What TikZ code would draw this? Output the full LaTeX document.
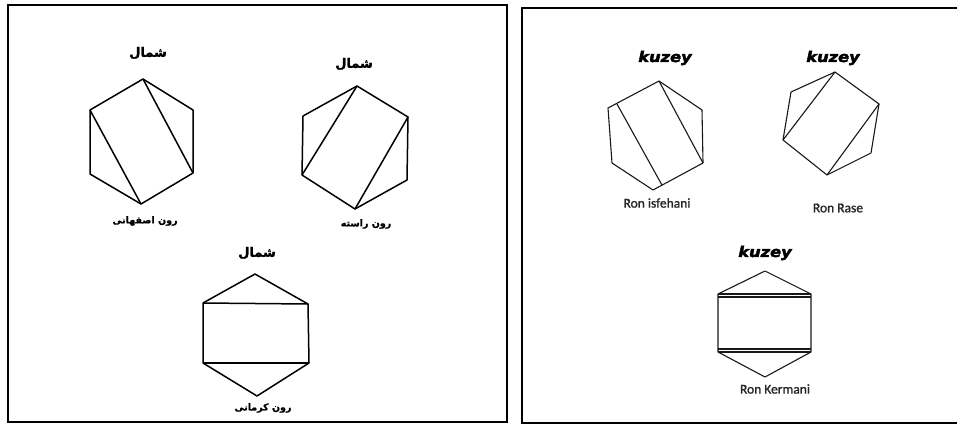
\documentclass[tikz,border=0pt]{standalone}
\usepackage{fontspec}
\usetikzlibrary{calc}
\TeXXeTstate=1
\newfontfamily\arabicfont[Script=Arabic,FakeBold=1.5]{DejaVu Sans Bold}
\newfontfamily\arabicsub[Script=Arabic,FakeBold=1]{DejaVu Sans Bold}
\newfontfamily\kzfont[FakeStretch=1.12,FakeBold=3]{DejaVu Sans Bold Oblique}
\newfontfamily\ronfont[FakeBold=1.2]{Carlito}
\tikzset{
  oldhex/.style={draw=black, line width=1.5pt, line join=round},
  newhex/.style={draw=black!90, line width=1.1pt, line join=round},
  panel/.style={draw=black, line width=1.6pt},
  panelr/.style={draw=black, line width=2.4pt},
  fatitle/.style={font=\arabicfont\fontsize{13}{15}\selectfont, inner sep=0pt},
  fasub/.style={font=\arabicsub\fontsize{9.5}{11}\selectfont, inner sep=0pt},
  kz/.style={font=\kzfont\fontsize{14.5}{16}\selectfont, inner sep=0pt},
  ron/.style={font=\ronfont\fontsize{13.5}{15}\selectfont, inner sep=0pt, text=black!85}
}
\begin{document}
\begin{tikzpicture}[x=1pt,y=-1pt]
\useasboundingbox (0,0) rectangle (957,425);
\fill[white] (0,0) rectangle (957,425);
% panels
\draw[panel] (8,5) rectangle (507,422);
\draw[panelr] (959,8) -- (522,8) -- (522,423) -- (959,423);

% ---------- left panel, hexagon 1 ----------
\coordinate (a1) at (143,79);
\coordinate (a2) at (193,110);
\coordinate (a3) at (193,173);
\coordinate (a4) at (141,204);
\coordinate (a5) at (90,174);
\coordinate (a6) at (90,110);
\draw[oldhex] (a1) -- (a2) -- (a3) -- (a4) -- (a5) -- (a6) -- cycle;
\draw[oldhex] (a6) -- (a4);
\draw[oldhex] (a1) -- (a3);
\node[fatitle] (at) at (148,53) {\beginR شمال\endR};
\node[fasub] (as) at (145,221) {\beginR رون اصفهانی\endR};

% ---------- left panel, hexagon 2 ----------
\coordinate (b1) at (357,86);
\coordinate (b2) at (408,117);
\coordinate (b3) at (407,180);
\coordinate (b4) at (355,209);
\coordinate (b5) at (302,175);
\coordinate (b6) at (303,116);
\draw[oldhex] (b1) -- (b2) -- (b3) -- (b4) -- (b5) -- (b6) -- cycle;
\draw[oldhex] (b1) -- (b5);
\draw[oldhex] (b2) -- (b4);
\node[fatitle] (bt) at (354,64) {\beginR شمال\endR};
\node[fasub] (bs) at (366,224) {\beginR رون راسته\endR};

% ---------- left panel, hexagon 3 ----------
\coordinate (c1) at (255,274);
\coordinate (c2) at (308,304);
\coordinate (c3) at (309,363);
\coordinate (c4) at (257,396);
\coordinate (c5) at (203,363);
\coordinate (c6) at (203,303);
\draw[oldhex] (c1) -- (c2) -- (c3) -- (c4) -- (c5) -- (c6) -- cycle;
\draw[oldhex] (c6) -- (c2);
\draw[oldhex] (c5) -- (c3);
\node[fatitle] (ct) at (257,253) {\beginR شمال\endR};
\node[fasub] (cs) at (263,408) {\beginR رون کرمانی\endR};

% ---------- right panel, hexagon A ----------
\coordinate (d1) at (659,81);
\coordinate (d2) at (702,110);
\coordinate (d3) at (703,163);
\coordinate (d4) at (653,190);
\coordinate (d5) at (612,163);
\coordinate (d6) at (608,108);
\draw[newhex] (d1) -- (d2) -- (d3) -- (d4) -- (d5) -- (d6) -- cycle;
\draw[newhex] ($(d6)!0.17!(d1)$) -- ($(d4)!0.18!(d3)$);
\draw[newhex] (d1) -- (d3);
\node[kz] (dt) at (665,58) {kuzey};
\node[ron] (ds) at (657,203) {Ron isfehani};

% ---------- right panel, hexagon B ----------
\coordinate (e1) at (835,72);
\coordinate (e2) at (879,104);
\coordinate (e3) at (871,153);
\coordinate (e4) at (827,175);
\coordinate (e5) at (783,140);
\coordinate (e6) at (791,92);
\draw[newhex] (e1) -- (e2) -- (e3) -- (e4) -- (e5) -- (e6) -- cycle;
\draw[newhex] (e1) -- (e5);
\draw[newhex] (e2) -- (e4);
\node[kz] (et) at (833,58) {kuzey};
\node[ron] (es) at (838,208) {Ron Rase};

% ---------- right panel, hexagon C ----------
\coordinate (f1) at (765,271);
\coordinate (f2) at (811,294);
\coordinate (f3) at (811,352);
\coordinate (f4) at (765,377);
\coordinate (f5) at (718,352);
\coordinate (f6) at (718,294);
\coordinate (g1) at (718,297);
\coordinate (g2) at (811,297);
\coordinate (g3) at (718,349);
\coordinate (g4) at (811,349);
\draw[newhex] (f1) -- (f2) -- (f3) -- (f4) -- (f5) -- (f6) -- cycle;
\draw[newhex] (f6) -- (f2);
\draw[newhex] (g1) -- (g2);
\draw[newhex] (f5) -- (f3);
\draw[newhex] (g3) -- (g4);
\node[kz] (ft) at (765,253) {kuzey};
\node[ron] (fs) at (775,389) {Ron Kermani};
\end{tikzpicture}
\end{document}
